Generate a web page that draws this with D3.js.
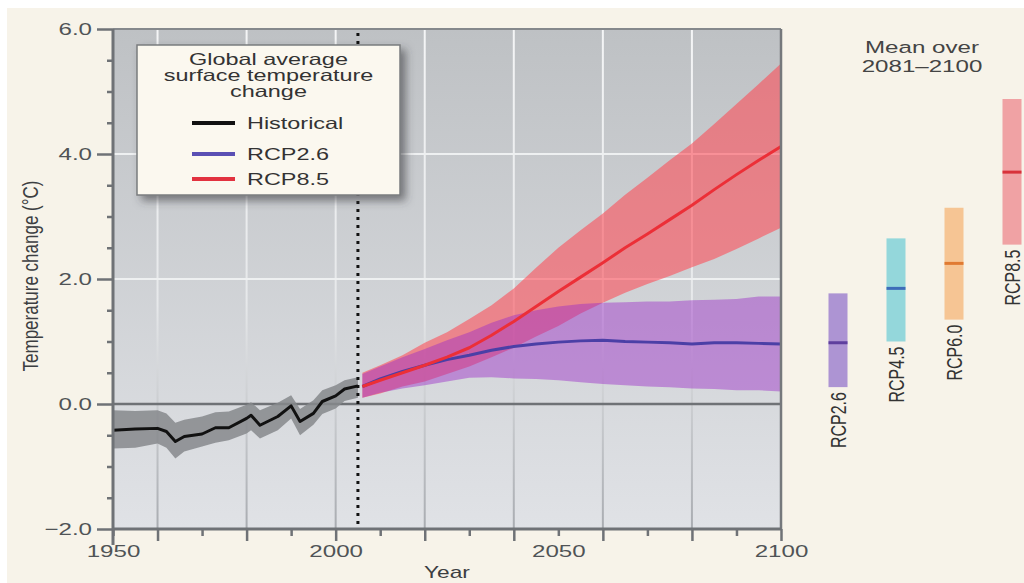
<!DOCTYPE html>
<html lang="en">
<head>
<meta charset="UTF-8" />
<title>Global average surface temperature change</title>
<style>
  body { margin: 0; background: #fff; }
  svg { display: block; font-family: "Liberation Sans", Arial, sans-serif; }
  .tick text { fill: #505356; font-size: 17px; }
</style>
</head>
<body>
<svg width="1024" height="583"></svg>
<script src="https://cdnjs.cloudflare.com/ajax/libs/d3/7.8.5/d3.min.js"></script>
<script>
// historical (1950-2005), multi-model mean and spread
const histYears = [1950, 1955, 1960, 1962, 1964, 1966, 1970, 1973, 1976, 1980, 1981, 1983, 1987, 1990, 1992, 1995, 1997, 2000, 2002, 2005];
const histMean  = [-0.42, -0.40, -0.39, -0.44, -0.60, -0.52, -0.48, -0.38, -0.38, -0.23, -0.18, -0.34, -0.20, -0.03, -0.28, -0.15, 0.04, 0.13, 0.24, 0.29];
const histHigh  = [-0.10, -0.11, -0.10, -0.15, -0.30, -0.25, -0.20, -0.13, -0.12, -0.01, 0.03, -0.10, 0.02, 0.14, -0.08, 0.06, 0.22, 0.30, 0.38, 0.43];
const histLow   = [-0.71, -0.70, -0.63, -0.70, -0.87, -0.76, -0.68, -0.62, -0.58, -0.47, -0.42, -0.55, -0.42, -0.23, -0.50, -0.33, -0.16, -0.07, 0.05, 0.10];

// projections 2006-2100
const projYears = [2006, 2010, 2015, 2020, 2025, 2030, 2035, 2040, 2045, 2050, 2055, 2060, 2065, 2070, 2075, 2080, 2085, 2090, 2095, 2100];
const rcp26Mean = [0.28, 0.40, 0.52, 0.62, 0.71, 0.78, 0.86, 0.92, 0.96, 0.99, 1.01, 1.02, 1.00, 0.99, 0.98, 0.96, 0.98, 0.98, 0.97, 0.96];
const rcp26High = [0.48, 0.60, 0.75, 0.88, 1.02, 1.15, 1.30, 1.42, 1.50, 1.56, 1.60, 1.62, 1.63, 1.64, 1.64, 1.66, 1.67, 1.68, 1.72, 1.72];
const rcp26Low  = [0.10, 0.18, 0.25, 0.30, 0.36, 0.42, 0.43, 0.41, 0.40, 0.38, 0.35, 0.32, 0.30, 0.28, 0.27, 0.25, 0.24, 0.22, 0.22, 0.20];
const rcp85Mean = [0.28, 0.38, 0.50, 0.62, 0.75, 0.90, 1.10, 1.32, 1.56, 1.80, 2.03, 2.26, 2.50, 2.72, 2.95, 3.18, 3.43, 3.67, 3.90, 4.12];
const rcp85High = [0.50, 0.62, 0.78, 0.98, 1.15, 1.36, 1.58, 1.85, 2.18, 2.50, 2.78, 3.05, 3.35, 3.62, 3.90, 4.17, 4.48, 4.80, 5.12, 5.45];
const rcp85Low  = [0.10, 0.17, 0.28, 0.36, 0.48, 0.60, 0.75, 0.90, 1.08, 1.25, 1.45, 1.62, 1.78, 1.92, 2.05, 2.19, 2.32, 2.48, 2.65, 2.82];

// mean over 2081-2100
const rcpNames = ["RCP2.6", "RCP4.5", "RCP6.0", "RCP8.5"];
const rcpLow   = [0.27, 1.00, 1.35, 2.55];
const rcpHigh  = [1.77, 2.65, 3.14, 4.88];
const rcpMean  = [0.98, 1.85, 2.25, 3.71];
const rcpFill  = ["#ad94d3", "#94d7db", "#f6c594", "#f0a2a4"];
const rcpLine  = ["#5e3f9e", "#3d6cb8", "#e07a32", "#d8323a"];

// ticks
const yTicks = [-2, -1.5, -1, -0.5, 0, 0.5, 1, 1.5, 2, 2.5, 3, 3.5, 4, 4.5, 5, 5.5, 6];
const yLabelTicks = [-2, 0, 2, 4, 6];
const xTicks = [1950, 1960, 1970, 1980, 1990, 2000, 2010, 2020, 2030, 2040, 2050, 2060, 2070, 2080, 2090, 2100];
const xLabelTicks = [1950, 2000, 2050, 2100];
const gridYears = [1960, 1980, 2000, 2020, 2040, 2060, 2080];
const gridTemps = [2, 4];
const startYear = 2005;

const SX = 1.42;   // the picture is stretched sideways
const axisColor = "#6f7276";

const svg = d3.select("svg");
const defs = svg.append("defs");

const x = d3.scaleLinear().domain([1950, 2100]).range([113, 781]);
const y = d3.scaleLinear().domain([-2, 6]).range([529, 29]);
const xr = d3.scalePoint().domain(rcpNames).range([838, 1012]);

// background
svg.append("rect").attr("width", 1024).attr("height", 583).attr("fill", "#fff");
svg.append("rect").attr("x", 7).attr("y", 8).attr("width", 1017).attr("height", 575).attr("fill", "#f7f3e9");

const bg = defs.append("linearGradient").attr("id", "bg")
  .attr("gradientUnits", "userSpaceOnUse").attr("x1", 0).attr("x2", 0).attr("y1", y(6)).attr("y2", y(-2));
bg.append("stop").attr("offset", 0).attr("stop-color", "#bec1c4");
bg.append("stop").attr("offset", 1).attr("stop-color", "#e0e2e6");

const gg = defs.append("linearGradient").attr("id", "grid")
  .attr("gradientUnits", "userSpaceOnUse").attr("x1", 0).attr("x2", 0).attr("y1", y(6)).attr("y2", y(-2));
gg.append("stop").attr("offset", 0).attr("stop-color", "#f4f5f6");
gg.append("stop").attr("offset", 0.55).attr("stop-color", "#e6e8ea");
gg.append("stop").attr("offset", 1).attr("stop-color", "#a9acb1");

defs.append("clipPath").attr("id", "plot").append("rect")
  .attr("x", x(1950)).attr("y", y(6)).attr("width", x(2100) - x(1950)).attr("height", y(-2) - y(6));

const shadow = defs.append("filter").attr("id", "shadow")
  .attr("x", "-10%").attr("y", "-10%").attr("width", "130%").attr("height", "135%");
shadow.append("feDropShadow").attr("dx", 5).attr("dy", 5).attr("stdDeviation", 4)
  .attr("flood-color", "#3a3d40").attr("flood-opacity", 0.6);

svg.append("rect")
  .attr("x", x(1950)).attr("y", y(6))
  .attr("width", x(2100) - x(1950)).attr("height", y(-2) - y(6))
  .attr("fill", "url(#bg)");

// grid
const grid = svg.append("g");
grid.selectAll("line.v").data(gridYears).join("line")
  .attr("x1", d => x(d)).attr("x2", d => x(d))
  .attr("y1", y(6)).attr("y2", y(-2))
  .attr("stroke", "url(#grid)").attr("stroke-width", 2);
grid.selectAll("line.h").data(gridTemps).join("line")
  .attr("x1", x(1950)).attr("x2", x(2100))
  .attr("y1", d => y(d)).attr("y2", d => y(d))
  .attr("stroke", "#eef0f1").attr("stroke-width", 2);
grid.append("line")
  .attr("x1", x(1950)).attr("x2", x(2100)).attr("y1", y(0)).attr("y2", y(0))
  .attr("stroke", axisColor).attr("stroke-width", 2.5);

// series
const plot = svg.append("g").attr("clip-path", "url(#plot)");

const band = (years, lo, hi) => d3.area()
  .x((d, i) => x(years[i])).y0((d, i) => y(lo[i])).y1((d, i) => y(hi[i]))(years);
const line = (years, vals) => d3.line()
  .x((d, i) => x(years[i])).y((d, i) => y(vals[i]))(years);

plot.append("path").attr("d", band(histYears, histLow, histHigh))
  .attr("fill", "#86888c").attr("opacity", 0.85);
plot.append("path").attr("d", band(projYears, rcp85Low, rcp85High))
  .attr("fill", "#ff4650").attr("opacity", 0.56);
plot.append("path").attr("d", band(projYears, rcp26Low, rcp26High))
  .attr("fill", "#9b2dc8").attr("opacity", 0.45);

plot.append("path").attr("d", line(histYears, histMean))
  .attr("fill", "none").attr("stroke", "#111").attr("stroke-width", 3).attr("stroke-linejoin", "round");
plot.append("path").attr("d", line(projYears, rcp26Mean))
  .attr("fill", "none").attr("stroke", "#4b3fa6").attr("stroke-width", 3).attr("stroke-linejoin", "round");
plot.append("path").attr("d", line(projYears, rcp85Mean))
  .attr("fill", "none").attr("stroke", "#ec2f37").attr("stroke-width", 3).attr("stroke-linejoin", "round");

// start of projections
svg.append("line")
  .attr("x1", x(startYear)).attr("x2", x(startYear)).attr("y1", y(6) + 4).attr("y2", y(-2))
  .attr("stroke", "#111").attr("stroke-width", 3).attr("stroke-dasharray", "3,5");

// frame
svg.append("line").attr("x1", x(1950)).attr("x2", x(2100)).attr("y1", y(6)).attr("y2", y(6))
  .attr("stroke", "#85888c").attr("stroke-width", 2);
svg.append("line").attr("x1", x(2100)).attr("x2", x(2100)).attr("y1", y(6)).attr("y2", y(-2))
  .attr("stroke", "#75787c").attr("stroke-width", 2.5);
svg.append("line").attr("x1", x(1950)).attr("x2", x(2100)).attr("y1", y(-2)).attr("y2", y(-2))
  .attr("stroke", axisColor).attr("stroke-width", 3);
svg.append("line").attr("x1", x(1950)).attr("x2", x(1950)).attr("y1", y(6)).attr("y2", y(-2) + 16)
  .attr("stroke", axisColor).attr("stroke-width", 3);

// axes
const gy = svg.append("g").attr("transform", `translate(${x(1950)},0)`)
  .call(d3.axisLeft(y).tickValues(yTicks).tickSizeOuter(0)
    .tickFormat(d => yLabelTicks.includes(d) ? d3.format(".1f")(d) : ""));
gy.select(".domain").remove();
gy.selectAll(".tick line")
  .attr("x2", d => yLabelTicks.includes(d) ? -16 : -6)
  .attr("stroke", axisColor).attr("stroke-width", 2.5);
gy.selectAll(".tick text")
  .attr("x", null).attr("dy", "0.35em")
  .attr("transform", `translate(-21,0) scale(${SX},1)`);

const gx = svg.append("g").attr("transform", `translate(0,${y(-2)})`)
  .call(d3.axisBottom(x).tickValues(xTicks).tickSizeOuter(0)
    .tickFormat(d => xLabelTicks.includes(d) ? String(d) : ""));
gx.select(".domain").remove();
gx.selectAll(".tick line")
  .attr("y2", d => (d - 1940) % 20 === 0 ? 12 : 7)
  .attr("stroke", axisColor).attr("stroke-width", 2.5);
gx.selectAll(".tick text")
  .attr("y", null).attr("dy", null)
  .attr("transform", `translate(0,28) scale(${SX},1)`);

// axis titles
svg.append("text")
  .attr("transform", `translate(30,276) scale(1.3,1) rotate(-90)`)
  .attr("text-anchor", "middle").attr("dy", "0.35em")
  .attr("font-size", 17).attr("fill", "#3c3e41")
  .text("Temperature change (°C)");
svg.append("text")
  .attr("transform", `translate(${(x(1950) + x(2100)) / 2},578) scale(${SX},1)`)
  .attr("text-anchor", "middle")
  .attr("font-size", 16).attr("fill", "#3c3e41")
  .text("Year");

// legend
const legend = svg.append("g");
legend.append("rect")
  .attr("x", 137).attr("y", 45).attr("width", 263).attr("height", 150)
  .attr("fill", "#fbf8ef").attr("stroke", "#7a7c7f").attr("stroke-width", 1.5)
  .attr("filter", "url(#shadow)");
["Global average", "surface temperature", "change"].forEach((t, i) => {
  legend.append("text")
    .attr("transform", `translate(268.5,${65 + i * 16}) scale(${SX},1)`)
    .attr("text-anchor", "middle").attr("font-size", 16.5).attr("fill", "#333")
    .text(t);
});
const legendItems = [
  { name: "Historical", color: "#111", y: 123 },
  { name: "RCP2.6", color: "#5a50b4", y: 154 },
  { name: "RCP8.5", color: "#e2323f", y: 179 }
];
legendItems.forEach(d => {
  legend.append("line").attr("x1", 192).attr("x2", 235).attr("y1", d.y).attr("y2", d.y)
    .attr("stroke", d.color).attr("stroke-width", 4);
  legend.append("text")
    .attr("transform", `translate(247,${d.y}) scale(${SX},1)`)
    .attr("dy", "0.36em").attr("font-size", 16.5).attr("fill", "#333")
    .text(d.name);
});

// right panel: mean over 2081-2100
["Mean over", "2081\u20132100"].forEach((t, i) => {
  svg.append("text")
    .attr("transform", `translate(922,${53 + i * 19}) scale(${SX},1)`)
    .attr("text-anchor", "middle").attr("font-size", 17).attr("fill", "#444")
    .text(t);
});

const barW = 19;
const bars = svg.append("g");
rcpNames.forEach((name, i) => {
  const cx = xr(name);
  bars.append("rect")
    .attr("x", cx - barW / 2).attr("width", barW)
    .attr("y", y(rcpHigh[i])).attr("height", y(rcpLow[i]) - y(rcpHigh[i]))
    .attr("fill", rcpFill[i]);
  bars.append("line")
    .attr("x1", cx - barW / 2).attr("x2", cx + barW / 2)
    .attr("y1", y(rcpMean[i])).attr("y2", y(rcpMean[i]))
    .attr("stroke", rcpLine[i]).attr("stroke-width", 3);
  bars.append("text")
    .attr("transform", `translate(${cx},${y(rcpLow[i]) + 5}) scale(${SX},1) rotate(-90)`)
    .attr("text-anchor", "end").attr("dy", "0.36em")
    .attr("font-size", 16).attr("fill", "#333")
    .text(name);
});
</script>
</body>
</html>
